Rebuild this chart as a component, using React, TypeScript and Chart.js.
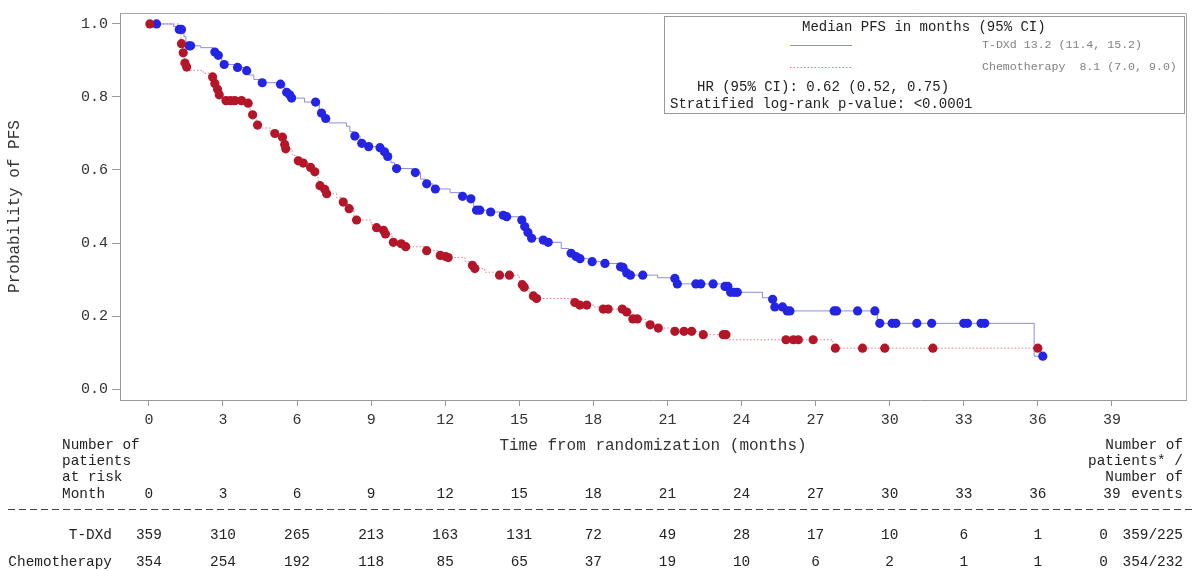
import React, { useEffect, useRef } from "react";
import { Chart, registerables } from "chart.js";

Chart.register(...registerables);

const FONT = "'Liberation Mono', 'Courier New', monospace";

// Axis ticks
const xTickValues = [0, 3, 6, 9, 12, 15, 18, 21, 24, 27, 30, 33, 36, 39];
const yTickValues = [0, 0.2, 0.4, 0.6, 0.8, 1.0];

// T-DXd Kaplan-Meier steps (time of drop, survival after drop)
const tdxdStepTime = [0, 1.0, 1.2, 1.42, 1.5, 1.58, 2.1, 2.6, 2.75, 2.95, 3.5, 3.85, 4.05, 4.25, 4.5, 5.2, 5.5, 5.65, 5.75, 6.3, 6.9, 7.1, 7.3, 8.0, 8.14, 8.3, 8.55, 8.8, 9.3, 9.45, 9.6, 9.8, 9.95, 10.7, 11.0, 11.2, 11.5, 12.2, 12.6, 12.95, 13.15, 13.25, 13.7, 14.2, 14.4, 15.0, 15.15, 15.3, 15.45, 15.9, 16.1, 16.7, 17.0, 17.25, 17.4, 17.8, 18.3, 19.0, 19.15, 19.3, 19.45, 20.6, 21.2, 21.35, 23.25, 23.5, 24.85, 25.2, 25.3, 25.8, 29.5, 35.85, 36.2];
const tdxdStepSurv = [1.0, 0.993, 0.985, 0.965, 0.95, 0.94, 0.935, 0.923, 0.914, 0.889, 0.881, 0.872, 0.86, 0.848, 0.839, 0.835, 0.813, 0.806, 0.797, 0.786, 0.756, 0.741, 0.729, 0.72, 0.705, 0.693, 0.673, 0.664, 0.661, 0.65, 0.637, 0.62, 0.604, 0.593, 0.575, 0.562, 0.548, 0.538, 0.528, 0.521, 0.5, 0.49, 0.485, 0.476, 0.472, 0.463, 0.445, 0.429, 0.413, 0.408, 0.402, 0.385, 0.372, 0.363, 0.357, 0.349, 0.344, 0.335, 0.333, 0.318, 0.312, 0.305, 0.303, 0.288, 0.281, 0.265, 0.25, 0.246, 0.225, 0.214, 0.18, 0.09, 0.09];

// T-DXd censored observations
const tdxdCensorTime = [0.31, 1.23, 1.32, 1.63, 1.69, 2.67, 2.81, 3.05, 3.59, 3.96, 4.59, 5.33, 5.58, 5.7, 5.78, 6.75, 6.99, 7.16, 8.34, 8.62, 8.9, 9.36, 9.54, 9.67, 10.03, 10.79, 11.25, 11.6, 12.7, 13.04, 13.27, 13.4, 13.84, 14.35, 14.49, 15.1, 15.22, 15.35, 15.5, 15.97, 16.17, 17.1, 17.3, 17.46, 17.95, 18.47, 19.1, 19.2, 19.35, 19.5, 20.0, 21.3, 21.4, 22.15, 22.35, 22.85, 23.33, 23.45, 23.56, 23.7, 23.83, 25.26, 25.35, 25.66, 25.85, 25.96, 27.75, 27.85, 28.7, 29.4, 29.6, 30.1, 30.25, 31.1, 31.7, 33.0, 33.15, 33.7, 33.85, 36.2];
const tdxdCensorSurv = [1.0, 0.985, 0.985, 0.94, 0.94, 0.923, 0.914, 0.889, 0.881, 0.872, 0.839, 0.835, 0.813, 0.806, 0.797, 0.786, 0.756, 0.741, 0.693, 0.673, 0.664, 0.661, 0.65, 0.637, 0.604, 0.593, 0.562, 0.548, 0.528, 0.521, 0.49, 0.49, 0.485, 0.476, 0.472, 0.463, 0.445, 0.429, 0.413, 0.408, 0.402, 0.372, 0.363, 0.357, 0.349, 0.344, 0.335, 0.333, 0.318, 0.312, 0.312, 0.303, 0.288, 0.288, 0.288, 0.288, 0.281, 0.281, 0.265, 0.265, 0.265, 0.246, 0.225, 0.225, 0.214, 0.214, 0.214, 0.214, 0.214, 0.214, 0.18, 0.18, 0.18, 0.18, 0.18, 0.18, 0.18, 0.18, 0.18, 0.09];

// Chemotherapy Kaplan-Meier steps
const chemoStepTime = [0, 1.2, 1.3, 1.37, 1.44, 1.5, 1.6, 2.2, 2.55, 2.65, 2.75, 2.83, 3.0, 3.9, 4.1, 4.15, 4.35, 4.45, 4.9, 5.05, 5.3, 5.45, 5.5, 5.8, 6.0, 6.2, 6.5, 6.7, 6.85, 6.92, 7.1, 7.18, 7.6, 7.85, 8.05, 8.3, 8.4, 9.0, 9.2, 9.45, 9.55, 9.85, 10.2, 10.35, 11.2, 11.75, 12.0, 12.1, 12.8, 13.05, 13.15, 13.6, 14.1, 15.0, 15.1, 15.17, 15.4, 15.55, 15.65, 17.2, 17.4, 18.0, 18.35, 19.3, 19.55, 20.1, 20.25, 20.55, 21.25, 22.4, 23.45, 27.7, 36.0];
const chemoStepSurv = [1.0, 0.975, 0.946, 0.921, 0.893, 0.882, 0.873, 0.865, 0.855, 0.837, 0.821, 0.806, 0.79, 0.783, 0.765, 0.751, 0.723, 0.715, 0.705, 0.7, 0.69, 0.67, 0.658, 0.64, 0.625, 0.619, 0.607, 0.595, 0.57, 0.557, 0.547, 0.535, 0.525, 0.512, 0.494, 0.475, 0.463, 0.45, 0.442, 0.435, 0.425, 0.402, 0.398, 0.39, 0.379, 0.366, 0.363, 0.36, 0.35, 0.339, 0.33, 0.32, 0.312, 0.295, 0.286, 0.279, 0.265, 0.255, 0.248, 0.237, 0.23, 0.225, 0.219, 0.211, 0.192, 0.18, 0.176, 0.167, 0.158, 0.149, 0.135, 0.112, 0.112];

// Chemotherapy censored observations
const chemoCensorTime = [0.04, 1.32, 1.39, 1.46, 1.53, 2.58, 2.67, 2.78, 2.85, 3.12, 3.3, 3.48, 3.75, 4.02, 4.2, 4.4, 5.1, 5.41, 5.5, 5.54, 6.05, 6.25, 6.55, 6.72, 6.93, 7.12, 7.2, 7.87, 8.11, 8.41, 9.22, 9.5, 9.58, 9.9, 10.22, 10.4, 11.25, 11.8, 12.02, 12.12, 13.1, 13.2, 14.2, 14.6, 15.12, 15.2, 15.57, 15.7, 17.25, 17.45, 17.73, 18.4, 18.6, 19.17, 19.35, 19.6, 19.78, 20.3, 20.63, 21.3, 21.67, 21.98, 22.45, 23.26, 23.37, 25.8, 26.1, 26.3, 26.9, 27.8, 28.9, 29.8, 31.75, 36.0];
const chemoCensorSurv = [1.0, 0.946, 0.921, 0.893, 0.882, 0.855, 0.837, 0.821, 0.806, 0.79, 0.79, 0.79, 0.79, 0.783, 0.751, 0.723, 0.7, 0.69, 0.67, 0.658, 0.625, 0.619, 0.607, 0.595, 0.557, 0.547, 0.535, 0.512, 0.494, 0.463, 0.442, 0.435, 0.425, 0.402, 0.398, 0.39, 0.379, 0.366, 0.363, 0.36, 0.339, 0.33, 0.312, 0.312, 0.286, 0.279, 0.255, 0.248, 0.237, 0.23, 0.23, 0.219, 0.219, 0.219, 0.211, 0.192, 0.192, 0.176, 0.167, 0.158, 0.158, 0.158, 0.149, 0.149, 0.149, 0.135, 0.135, 0.135, 0.135, 0.112, 0.112, 0.112, 0.112, 0.112];

// Number at risk table
const riskMonths = [0, 3, 6, 9, 12, 15, 18, 21, 24, 27, 30, 33, 36, 39];
const tdxdAtRisk = [359, 310, 265, 213, 163, 131, 72, 49, 28, 17, 10, 6, 1, 0];
const chemoAtRisk = [354, 254, 192, 118, 85, 65, 37, 19, 10, 6, 2, 1, 1, 0];
const armNames = ["T-DXd", "Chemotherapy"];
const armTotals = ["359/225", "354/232"];
const armMedians = ["T-DXd 13.2 (11.4, 15.2)", "Chemotherapy  8.1 (7.0, 9.0)"];

const BLUE_DOT = "rgb(36,36,228)";
const BLUE_LINE = "rgb(140,140,222)";
const RED_DOT = "rgb(178,22,40)";
const RED_LINE = "rgb(226,120,132)";

const toXY = (xs: number[], ys: number[]) => xs.map((x, i) => ({ x, y: ys[i] }));

const textPlugin = {
  id: "kmText",
  afterDraw(chart: any) {
    const { ctx, chartArea } = chart;
    const xs = chart.scales.x;
    ctx.save();
    // frame top/right
    ctx.strokeStyle = "#a8a8a8";
    ctx.lineWidth = 1;
    ctx.beginPath();
    ctx.moveTo(chartArea.left, chartArea.top + 0.5);
    ctx.lineTo(chartArea.right + 0.5, chartArea.top + 0.5);
    ctx.lineTo(chartArea.right + 0.5, chartArea.bottom);
    ctx.stroke();

    // y title
    ctx.fillStyle = "#333";
    ctx.font = `16px ${FONT}`;
    ctx.textAlign = "center";
    ctx.textBaseline = "middle";
    ctx.save();
    ctx.translate(15, (chartArea.top + chartArea.bottom) / 2);
    ctx.rotate(-Math.PI / 2);
    ctx.fillText("Probability of PFS", 0, 0);
    ctx.restore();

    // x title
    ctx.fillText("Time from randomization (months)", (chartArea.left + chartArea.right) / 2, 446);

    // legend box
    const bx = 664, by = 16, bw = 520, bh = 97;
    ctx.strokeStyle = "#999";
    ctx.strokeRect(bx + 0.5, by + 0.5, bw, bh);
    ctx.fillStyle = "#222";
    ctx.font = `14px ${FONT}`;
    ctx.textAlign = "left";
    ctx.fillText("Median PFS in months (95% CI)", 802, 27);
    ctx.fillText("HR (95% CI): 0.62 (0.52, 0.75)", 697, 87);
    ctx.fillText("Stratified log-rank p-value: <0.0001", 670, 104);
    ctx.strokeStyle = BLUE_LINE;
    ctx.beginPath();
    ctx.moveTo(790, 45.5);
    ctx.lineTo(852, 45.5);
    ctx.stroke();
    ctx.strokeStyle = RED_LINE;
    ctx.setLineDash([1.5, 2]);
    ctx.beginPath();
    ctx.moveTo(790, 67.5);
    ctx.lineTo(852, 67.5);
    ctx.stroke();
    ctx.setLineDash([]);
    ctx.fillStyle = "#808080";
    ctx.font = `11.6px ${FONT}`;
    ctx.fillText(armMedians[0], 982, 45);
    ctx.fillText(armMedians[1], 982, 67);

    // at-risk table
    ctx.fillStyle = "#222";
    ctx.font = `14.4px ${FONT}`;
    ctx.textAlign = "left";
    ctx.fillText("Number of", 62, 445);
    ctx.fillText("patients", 62, 461);
    ctx.fillText("at risk", 62, 477);
    ctx.fillText("Month", 62, 494);
    ctx.textAlign = "right";
    ctx.fillText("Number of", 1183, 445);
    ctx.fillText("patients* /", 1183, 461);
    ctx.fillText("Number of", 1183, 477);
    ctx.fillText("events", 1183, 494);
    ctx.textAlign = "center";
    riskMonths.forEach((m) => {
      ctx.fillText(String(m), xs.getPixelForValue(m), 494);
    });
    // dashed separator
    ctx.strokeStyle = "#444";
    ctx.setLineDash([7, 4]);
    ctx.beginPath();
    ctx.moveTo(8, 509.5);
    ctx.lineTo(1194, 509.5);
    ctx.stroke();
    ctx.setLineDash([]);

    const rows = [tdxdAtRisk, chemoAtRisk];
    const rowY = [535, 562];
    rows.forEach((vals, r) => {
      ctx.textAlign = "right";
      ctx.fillText(armNames[r], 112, rowY[r]);
      vals.forEach((v, i) => {
        const px = xs.getPixelForValue(riskMonths[i]);
        if (i === vals.length - 1) {
          ctx.textAlign = "right";
          ctx.fillText(String(v), px - 4, rowY[r]);
        } else {
          ctx.textAlign = "center";
          ctx.fillText(String(v), px, rowY[r]);
        }
      });
      ctx.textAlign = "right";
      ctx.fillText(armTotals[r], 1183, rowY[r]);
    });
    ctx.restore();
  },
};

export default function App() {
  const ref = useRef<HTMLCanvasElement>(null);
  useEffect(() => {
    if (!ref.current) return;
    const chart = new Chart(ref.current, {
      type: "line",
      data: {
        datasets: [
          {
            label: "T-DXd censored",
            data: toXY(tdxdCensorTime, tdxdCensorSurv),
            showLine: false,
            pointRadius: 4.6,
            pointBackgroundColor: BLUE_DOT,
            pointBorderWidth: 0,
            order: 1,
          },
          {
            label: "Chemotherapy censored",
            data: toXY(chemoCensorTime, chemoCensorSurv),
            showLine: false,
            pointRadius: 4.6,
            pointBackgroundColor: RED_DOT,
            pointBorderWidth: 0,
            order: 0,
          },
          {
            label: "T-DXd",
            data: toXY(tdxdStepTime, tdxdStepSurv),
            stepped: "before",
            borderColor: BLUE_LINE,
            borderWidth: 1,
            pointRadius: 0,
            fill: false,
            order: 3,
          },
          {
            label: "Chemotherapy",
            data: toXY(chemoStepTime, chemoStepSurv),
            stepped: "before",
            borderColor: RED_LINE,
            borderWidth: 1,
            borderDash: [1.5, 2],
            pointRadius: 0,
            fill: false,
            order: 2,
          },
        ],
      },
      options: {
        animation: false,
        responsive: true,
        maintainAspectRatio: false,
        layout: { padding: { left: 0, top: 10, right: 8, bottom: 0 } },
        plugins: { legend: { display: false }, tooltip: { enabled: false } },
        scales: {
          x: {
            type: "linear",
            min: -1.17,
            max: 42,
            afterBuildTicks: (s: any) => {
              s.ticks = xTickValues.map((v) => ({ value: v }));
            },
            afterFit: (s: any) => {
              s.height = 171;
            },
            grid: { drawOnChartArea: false, drawTicks: true, tickLength: 6, color: "#999" },
            border: { display: true, color: "#999" },
            ticks: {
              font: { family: FONT, size: 15 },
              color: "#333",
              padding: 5,
              maxRotation: 0,
              autoSkip: false,
              callback: (v: any) => String(v),
            },
          },
          y: {
            type: "linear",
            min: -0.03,
            max: 1.03,
            afterBuildTicks: (s: any) => {
              s.ticks = yTickValues.map((v) => ({ value: v }));
            },
            afterFit: (s: any) => {
              s.width = 120;
            },
            grid: { drawOnChartArea: false, drawTicks: true, tickLength: 8, color: "#999" },
            border: { display: true, color: "#999" },
            ticks: {
              font: { family: FONT, size: 15 },
              color: "#333",
              padding: 4,
              callback: (v: any) => Number(v).toFixed(1),
            },
          },
        },
      },
      plugins: [textPlugin],
    });
    return () => chart.destroy();
  }, []);
  return (
    <div style={{ position: "absolute", left: 0, top: 0, width: 1194, height: 571, background: "#fff" }}>
      <canvas ref={ref} />
    </div>
  );
}
